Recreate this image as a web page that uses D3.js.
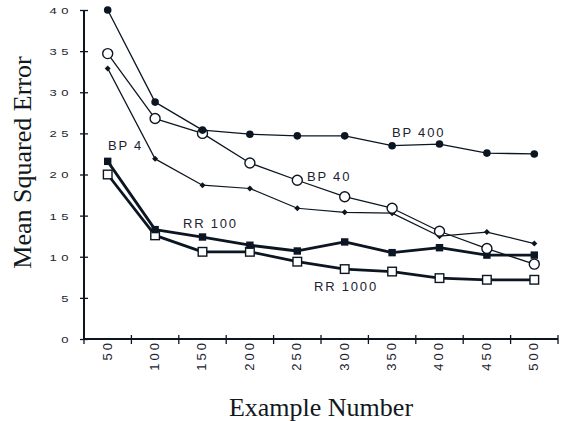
<!DOCTYPE html>
<html lang="en">
<head>
  <meta charset="UTF-8">
  <title>Mean Squared Error vs Example Number</title>
  <script src="https://d3js.org/d3.v7.min.js"></script>
  <style>
    body { margin: 0; background: #fff; }
    svg { display: block; }
    .tick text, .lbl { font-family: "Liberation Sans", Arial, sans-serif; fill: #1b2230; }
    .title { font-family: "Liberation Serif", "Times New Roman", serif; font-size: 26px; fill: #111820; }
  </style>
</head>
<body>
  <div id="chart"></div>
  <script>
    const categories = ['50', '100', '150', '200', '250', '300', '350', '400', '450', '500'];
    const yTicks = [0, 5, 10, 15, 20, 25, 30, 35, 40];

    const bp400  = [40.0, 28.8, 25.4, 24.9, 24.7, 24.7, 23.5, 23.7, 22.6, 22.5];
    const bp40   = [34.7, 26.8, 25.0, 21.4, 19.3, 17.3, 15.9, 13.1, 11.0, 9.1];
    const bp4    = [32.9, 21.9, 18.7, 18.3, 15.9, 15.4, 15.3, 12.5, 13.0, 11.6];
    const rr100  = [21.6, 13.3, 12.4, 11.4, 10.7, 11.8, 10.5, 11.1, 10.2, 10.2];
    const rr1000 = [20.0, 12.6, 10.6, 10.6, 9.4, 8.5, 8.2, 7.4, 7.2, 7.2];

    const W = 567, H = 421;
    const margin = { top: 10, right: 9, bottom: 82, left: 84 };
    const ink = '#0c1622';

    const svg = d3.select('#chart').append('svg')
      .attr('width', W).attr('height', H);

    const x = d3.scaleBand().domain(categories)
      .range([margin.left, W - margin.right]).paddingInner(0).paddingOuter(0);
    const y = d3.scaleLinear().domain([0, 40])
      .range([H - margin.bottom, margin.top]);

    // y axis
    const gy = svg.append('g')
      .attr('transform', `translate(${margin.left},0)`)
      .call(d3.axisLeft(y).tickValues(yTicks).tickSize(4).tickSizeOuter(0));
    gy.select('.domain').attr('stroke', ink).attr('stroke-width', 2)
      .attr('d', `M0,${y(0)}V${y(40)}`);
    gy.selectAll('.tick line').attr('x1', 4).attr('x2', -4)
      .attr('stroke', ink).attr('stroke-width', 1.3);
    // labels look squashed vertically in the original
    gy.selectAll('.tick text').attr('x', 0).attr('dy', '0.36em')
      .attr('transform', 'translate(-11,0) scale(1,0.74)')
      .style('font-size', '13px').style('letter-spacing', '4.5px');

    // x axis: labels at category centres, ticks on category boundaries
    const gx = svg.append('g')
      .attr('transform', `translate(0,${y(0)})`)
      .call(d3.axisBottom(x).tickSize(0).tickSizeOuter(0));
    gx.select('.domain').attr('stroke', ink).attr('stroke-width', 2)
      .attr('d', `M${margin.left},0H${W - margin.right}`);
    gx.selectAll('.tick text')
      .attr('transform', 'rotate(-90)')
      .attr('x', -1).attr('y', 0).attr('dy', '0.3em')
      .attr('text-anchor', 'end')
      .style('font-size', '13px').style('letter-spacing', '3px');

    gx.selectAll('.bound').data(categories).enter().append('line')
      .attr('class', 'bound')
      .attr('x1', d => x(d) + x.bandwidth()).attr('x2', d => x(d) + x.bandwidth())
      .attr('y1', -4).attr('y2', 5)
      .attr('stroke', ink).attr('stroke-width', 1.3);
    gx.append('line')
      .attr('x1', margin.left).attr('x2', margin.left)
      .attr('y1', 0).attr('y2', 5)
      .attr('stroke', ink).attr('stroke-width', 1.3);

    const cx = d => x(d) + x.bandwidth() / 2;
    const line = d3.line().x((v, i) => cx(categories[i])).y(v => y(v));

    function drawSeries(vals, width, marker) {
      svg.append('path').datum(vals)
        .attr('fill', 'none').attr('stroke', ink)
        .attr('stroke-width', width).attr('stroke-linejoin', 'round')
        .attr('d', line);
      const g = svg.append('g');
      vals.forEach((v, i) => marker(g, cx(categories[i]), y(v)));
    }

    const filledCircle = (g, px, py) => g.append('circle')
      .attr('cx', px).attr('cy', py).attr('r', 3.8).attr('fill', ink);
    const openCircle = (g, px, py) => g.append('circle')
      .attr('cx', px).attr('cy', py).attr('r', 5).attr('fill', '#fff')
      .attr('stroke', ink).attr('stroke-width', 1.4);
    const diamond = (g, px, py) => g.append('path')
      .attr('d', `M${px},${py - 3}L${px + 3},${py}L${px},${py + 3}L${px - 3},${py}Z`)
      .attr('fill', ink);
    const filledSquare = (g, px, py) => g.append('rect')
      .attr('x', px - 3.7).attr('y', py - 3.7).attr('width', 7.4).attr('height', 7.4)
      .attr('fill', ink);
    const openSquare = (g, px, py) => g.append('rect')
      .attr('x', px - 4.3).attr('y', py - 4.3).attr('width', 8.6).attr('height', 8.6)
      .attr('fill', '#fff').attr('stroke', ink).attr('stroke-width', 1.4);

    drawSeries(rr1000, 2.8, openSquare);
    drawSeries(rr100, 2.8, filledSquare);
    drawSeries(bp4, 1.2, diamond);
    drawSeries(bp40, 1.3, openCircle);
    drawSeries(bp400, 1.3, filledCircle);

    // series labels
    const labels = [
      { text: 'BP 4', x: 108, y: 150 },
      { text: 'RR 100', x: 183, y: 228 },
      { text: 'BP 40', x: 307, y: 180.5 },
      { text: 'BP 400', x: 392, y: 136.5 },
      { text: 'RR 1000', x: 314, y: 291 }
    ];
    svg.selectAll('.lbl').data(labels).enter().append('text')
      .attr('class', 'lbl')
      .attr('x', d => d.x).attr('y', d => d.y)
      .style('font-size', '13px').style('letter-spacing', '1.8px')
      .text(d => d.text);

    // axis titles
    svg.append('text').attr('class', 'title')
      .attr('transform', 'translate(31,162.5) rotate(-90)')
      .attr('text-anchor', 'middle')
      .text('Mean Squared Error');
    svg.append('text').attr('class', 'title')
      .attr('x', 321).attr('y', 416)
      .attr('text-anchor', 'middle')
      .text('Example Number');
  </script>
</body>
</html>
